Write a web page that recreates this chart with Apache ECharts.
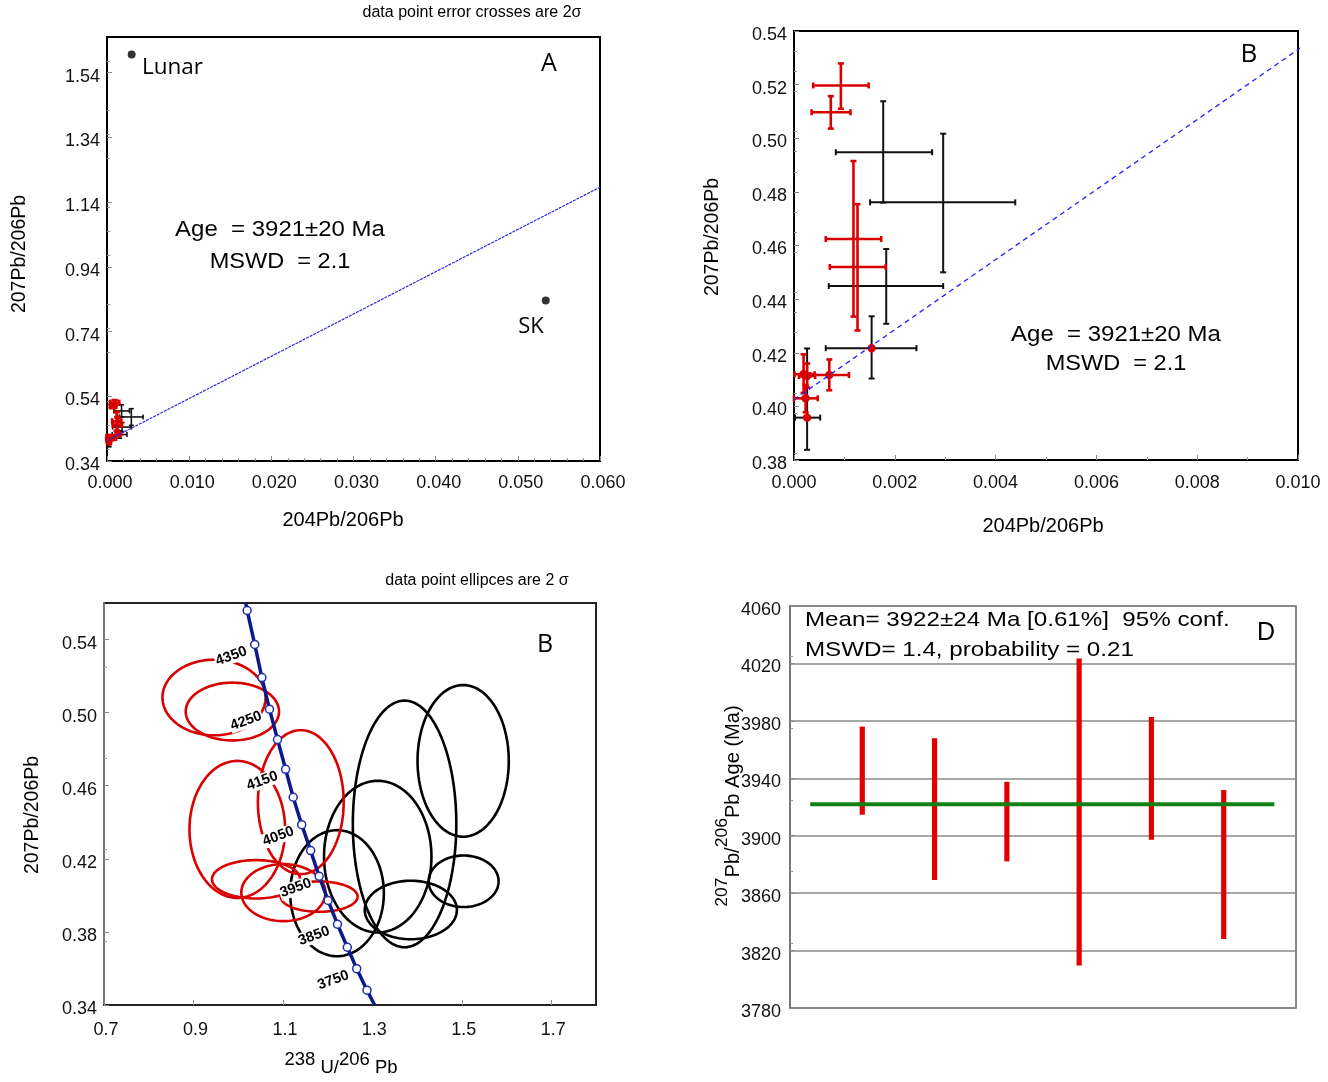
<!DOCTYPE html>
<html><head><meta charset="utf-8">
<script src="https://cdn.jsdelivr.net/npm/echarts@6/dist/echarts.min.js"></script>
<style>html,body{margin:0;padding:0;background:#fff}#c{width:1328px;height:1082px}</style>
</head><body><div id="c"></div>
<script>
// ---------- Panels A & B : 204Pb/206Pb (x) vs 207Pb/206Pb (y), error crosses ----------
const redCrossX   = [0.00093, 0.00073, 0.00118, 0.00126, 0.00070, 0.00019, 0.00026, 0.00023];
const redCrossY   = [0.5197, 0.5097, 0.4624, 0.4520, 0.4117, 0.4120, 0.4113, 0.4030];
const redCrossXLo = [0.00038, 0.00035, 0.00063, 0.00071, 0.00032, 0.00001, 0.00010, 0.00000];
const redCrossXHi = [0.00148, 0.00112, 0.00173, 0.00182, 0.00109, 0.00041, 0.00042, 0.00047];
const redCrossYLo = [0.5110, 0.5036, 0.4335, 0.4283, 0.4060, 0.4050, 0.4070, 0.3978];
const redCrossYHi = [0.5279, 0.5157, 0.4915, 0.4754, 0.4175, 0.4194, 0.4160, 0.4080];
const redCrossDot = [0, 0, 0, 0, 1, 1, 1, 1];

const blackCrossX   = [0.00177, 0.00296, 0.00183, 0.00154, 0.00026];
const blackCrossY   = [0.4948, 0.4761, 0.4449, 0.4217, 0.3958];
const blackCrossXLo = [0.00083, 0.00151, 0.00069, 0.00063, 0.00002];
const blackCrossXHi = [0.00274, 0.00439, 0.00296, 0.00243, 0.00052];
const blackCrossYLo = [0.4760, 0.4500, 0.4308, 0.4104, 0.3838];
const blackCrossYHi = [0.5138, 0.5017, 0.4587, 0.4336, 0.4216];
const blackCrossDot = [0, 0, 0, 1, 1];

const refPointName = ['Lunar', 'SK'];
const refPointX = [0.0030, 0.0534];
const refPointY = [1.596, 0.836];

const isochronX = [0, 0.06];
const isochronY = [0.4025, 1.186];

const ticksA_x = [0, 0.01, 0.02, 0.03, 0.04, 0.05, 0.06];
const ticksA_y = [0.34, 0.54, 0.74, 0.94, 1.14, 1.34, 1.54];
const ticksB_x = [0, 0.002, 0.004, 0.006, 0.008, 0.010];
const ticksB_y = [0.38, 0.40, 0.42, 0.44, 0.46, 0.48, 0.50, 0.52, 0.54];

// ---------- Panel C : Tera-Wasserburg (238U/206Pb vs 207Pb/206Pb) ----------
const concordiaAge = [4400, 4350, 4300, 4250, 4200, 4150, 4100, 4050, 4000, 3950, 3900, 3850, 3800, 3750, 3700];
const concordiaX = [1.020, 1.037, 1.053, 1.070, 1.088, 1.106, 1.123, 1.142, 1.162, 1.181, 1.201, 1.222, 1.244, 1.265, 1.288];
const concordiaY = [0.5559, 0.5373, 0.5192, 0.5019, 0.4853, 0.4690, 0.4537, 0.4387, 0.4245, 0.4104, 0.3972, 0.3842, 0.3716, 0.3599, 0.3481];
const concordiaEndTop = [1.017, 0.56];
const concordiaEndBottom = [1.305, 0.34];
const labelledAges = [4350, 4250, 4150, 4050, 3950, 3850, 3750];

const redEllCX = [0.946, 0.987, 0.998, 1.140, 1.040, 1.101, 1.181];
const redEllCY = [0.5083, 0.5006, 0.4361, 0.4510, 0.4088, 0.4015, 0.3993];
const redEllRX = [0.1153, 0.1043, 0.1069, 0.0959, 0.0985, 0.0940, 0.0860];
const redEllRY = [0.0207, 0.0158, 0.0375, 0.0394, 0.0105, 0.0156, 0.0083];

const blackEllCX = [1.221, 1.312, 1.372, 1.503, 1.504, 1.386];
const blackEllCY = [0.4012, 0.4212, 0.4391, 0.4736, 0.4077, 0.3920];
const blackEllRX = [0.1047, 0.1201, 0.1157, 0.1020, 0.0782, 0.1030];
const blackEllRY = [0.0345, 0.0415, 0.0675, 0.0415, 0.0141, 0.0160];

const ticksC_x = [0.7, 0.9, 1.1, 1.3, 1.5, 1.7];
const ticksC_y = [0.34, 0.38, 0.42, 0.46, 0.50, 0.54];

// ---------- Panel D : weighted mean of 207Pb/206Pb ages ----------
const spotIndex = [1, 2, 3, 4, 5, 6];
const ageLow  = [3914.6, 3869.1, 3882.1, 3809.6, 3897.2, 3828.1];
const ageHigh = [3976.0, 3967.9, 3937.5, 4023.5, 3982.7, 3931.9];
const meanAge = 3922;
const meanLineSpan = [0.28, 6.7];
const ticksD_y = [3780, 3820, 3860, 3900, 3940, 3980, 4020, 4060];

// ---------------------------------------------------------------
const FONT = '"Liberation Sans", Arial, sans-serif';
const SANS2 = '"Open Sans", "Noto Sans", sans-serif';
const RED = '#d80000';

function crossRenderer(color, lw, cap, dotR) {
  return function (params, api) {
    const x = api.value(0), y = api.value(1);
    const c = api.coord([x, y]);
    const l = api.coord([api.value(2), y]), r = api.coord([api.value(3), y]);
    const b = api.coord([x, api.value(4)]), t = api.coord([x, api.value(5)]);
    const st = {stroke: color, lineWidth: lw};
    const seg = (x1, y1, x2, y2) => ({type: 'line', shape: {x1, y1, x2, y2}, style: st});
    const ch = [
      seg(l[0], l[1], r[0], r[1]), seg(b[0], b[1], t[0], t[1]),
      seg(l[0], l[1] - cap, l[0], l[1] + cap), seg(r[0], r[1] - cap, r[0], r[1] + cap),
      seg(b[0] - cap, b[1], b[0] + cap, b[1]), seg(t[0] - cap, t[1], t[0] + cap, t[1])
    ];
    if (api.value(6)) ch.push({type: 'circle', shape: {cx: c[0], cy: c[1], r: dotR}, style: {fill: RED}});
    return {type: 'group', children: ch};
  };
}
function ellipseRenderer(color) {
  return function (params, api) {
    const cx = api.value(0), cy = api.value(1), rx = api.value(2), ry = api.value(3);
    const pts = [];
    for (let k = 0; k < 120; k++) {
      const t = k / 120 * 2 * Math.PI;
      pts.push(api.coord([cx + rx * Math.cos(t), cy + ry * Math.sin(t)]));
    }
    return {type: 'polygon', shape: {points: pts}, style: {fill: 'none', stroke: color, lineWidth: 2.6}};
  };
}
function barRenderer(params, api) {
  const lo = api.coord([api.value(0), api.value(1)]);
  const hi = api.coord([api.value(0), api.value(2)]);
  return {type: 'rect', shape: {x: lo[0] - 2.6, y: hi[1], width: 5.2, height: lo[1] - hi[1]}, style: {fill: '#e00000'}};
}

const redRows = redCrossX.map((x, i) => [x, redCrossY[i], redCrossXLo[i], redCrossXHi[i], redCrossYLo[i], redCrossYHi[i], redCrossDot[i]]);
const blackRows = blackCrossX.map((x, i) => [x, blackCrossY[i], blackCrossXLo[i], blackCrossXHi[i], blackCrossYLo[i], blackCrossYHi[i], blackCrossDot[i]]);
const redEllRows = redEllCX.map((x, i) => [x, redEllCY[i], redEllRX[i], redEllRY[i]]);
const blackEllRows = blackEllCX.map((x, i) => [x, blackEllCY[i], blackEllRX[i], blackEllRY[i]]);

function axis(o) {
  const lab = {
    customValues: o.ticks, fontFamily: FONT, fontSize: 18, color: '#111', margin: o.margin || 8,
    formatter: v => o.dec === 0 ? String(Math.round(v)) : v.toFixed(o.dec)
  };
  if (o.isY) { lab.verticalAlign = 'top'; lab.lineHeight = 8; }
  if (o.pad) lab.padding = o.pad;
  const base = {
    type: 'value',
    axisLine: {show: true, onZero: false, lineStyle: {color: o.lineColor || '#000', width: 2}},
    axisTick: {show: true, inside: true, length: 5, customValues: o.ticks, lineStyle: {color: '#888', width: 1}},
    minorTick: {show: !!o.minor, splitNumber: o.minor || 2, length: 3, lineStyle: {color: '#999'}},
    splitLine: {show: false},
    axisLabel: lab
  };
  const r = Object.assign(base, o.extra || {});
  r.gridIndex = o.grid; r.min = o.min; r.max = o.max;
  return r;
}

const option = {
  animation: false,
  backgroundColor: '#fff',
  grid: [
    {left: 107, top: 37, width: 493, height: 424, show: true, borderColor: '#000', borderWidth: 2},
    {left: 794, top: 31, width: 504, height: 429, show: true, borderColor: '#000', borderWidth: 2},
    {left: 104, top: 603, width: 492, height: 402, show: true, borderColor: '#222', borderWidth: 2},
    {left: 790, top: 606, width: 506, height: 402, show: true, borderColor: '#666', borderWidth: 1.5}
  ],
  xAxis: [
    axis({grid: 0, min: 0, max: 0.06, ticks: ticksA_x, dec: 3, minor: 5, margin: 13, pad: [0, 0, 0, 6]}),
    axis({grid: 1, min: 0, max: 0.01, ticks: ticksB_x, dec: 3, minor: 2, margin: 14}),
    axis({grid: 2, min: 0.7, max: 1.8, ticks: ticksC_x, dec: 1, minor: 2, margin: 16, lineColor: '#222', pad: [0, 0, 0, 4]}),
    {gridIndex: 3, type: 'value', min: 0, max: 7, axisLine: {show: false}, axisTick: {show: false}, axisLabel: {show: false}, splitLine: {show: false}}
  ],
  yAxis: [
    axis({grid: 0, min: 0.34, max: 1.65, ticks: ticksA_y, dec: 2, minor: 4, margin: 7, isY: true}),
    axis({grid: 1, min: 0.38, max: 0.54, ticks: ticksB_y, dec: 2, minor: 4, margin: 7, isY: true}),
    axis({grid: 2, min: 0.34, max: 0.56, ticks: ticksC_y, dec: 2, minor: 2, margin: 7, lineColor: '#777', isY: true}),
    axis({grid: 3, min: 3780, max: 4060, ticks: ticksD_y, dec: 0, minor: 2, margin: 9, lineColor: '#777', isY: true,
      extra: {splitLine: {show: true, lineStyle: {color: '#8a8a8a', width: 1.6}}}})
  ],
  series: [
    // Panel A
    {type: 'line', xAxisIndex: 0, yAxisIndex: 0, data: isochronX.map((x, i) => [x, isochronY[i]]), symbol: 'none',
      lineStyle: {color: '#2a2ae6', width: 1.2, type: [3, 1]}, silent: true},
    {type: 'custom', xAxisIndex: 0, yAxisIndex: 0, renderItem: crossRenderer('#111', 1.6, 2.5, 3), data: blackRows, silent: true},
    {type: 'custom', xAxisIndex: 0, yAxisIndex: 0, renderItem: crossRenderer(RED, 2.8, 3.2, 3.8), data: redRows, silent: true},
    {type: 'scatter', xAxisIndex: 0, yAxisIndex: 0, symbolSize: 8, itemStyle: {color: '#000'},
      data: refPointX.map((x, i) => [x, refPointY[i], refPointName[i]]), silent: true},
    // Panel B
    {type: 'line', xAxisIndex: 1, yAxisIndex: 1, data: isochronX.map((x, i) => [x, isochronY[i]]), symbol: 'none',
      lineStyle: {color: '#1f1fff', width: 1.3, type: [5, 4]}, silent: true, clip: true},
    {type: 'custom', xAxisIndex: 1, yAxisIndex: 1, renderItem: crossRenderer('#111', 2, 3, 4.2), data: blackRows, silent: true},
    {type: 'custom', xAxisIndex: 1, yAxisIndex: 1, renderItem: crossRenderer(RED, 2.6, 3, 4.2), data: redRows, silent: true},
    // Panel C
    {type: 'custom', xAxisIndex: 2, yAxisIndex: 2, renderItem: ellipseRenderer('#000'), data: blackEllRows, silent: true},
    {type: 'custom', xAxisIndex: 2, yAxisIndex: 2, renderItem: ellipseRenderer(RED), data: redEllRows, silent: true},
    {type: 'line', xAxisIndex: 2, yAxisIndex: 2, z: 10, silent: true,
      symbol: 'circle', symbolSize: 8, showAllSymbol: true,
      itemStyle: {color: '#fff', borderColor: '#1c2fa8', borderWidth: 1.5},
      lineStyle: {color: '#0b1a8a', width: 3.5},
      label: {position: 'inside', offset: [-26, 3], rotate: 20, fontWeight: 'bold', fontSize: 14.5, fontFamily: FONT,
        color: '#000', backgroundColor: '#fff', padding: [0, 1]},
      data: [{value: concordiaEndTop, symbol: 'none'}]
        .concat(concordiaX.map((x, i) => ({value: [x, concordiaY[i]],
          label: {show: labelledAges.indexOf(concordiaAge[i]) >= 0, formatter: String(concordiaAge[i])}})))
        .concat([{value: concordiaEndBottom, symbol: 'none'}])},
    // Panel D
    {type: 'line', xAxisIndex: 3, yAxisIndex: 3, symbol: 'none', silent: true,
      data: meanLineSpan.map(x => [x, meanAge]), lineStyle: {color: '#128012', width: 4}},
    {type: 'custom', xAxisIndex: 3, yAxisIndex: 3, renderItem: barRenderer, silent: true,
      data: spotIndex.map((s, i) => [s, ageLow[i], ageHigh[i]])}
  ],
  graphic: []
};

function txt(x, y, text, size, extra) {
  extra = extra || {};
  const st = Object.assign({text: text, fontSize: size, fontFamily: FONT, fill: '#000',
    textAlign: 'center', align: 'center', textVerticalAlign: 'middle', verticalAlign: 'middle'}, extra.style || {});
  const el = {type: 'text', x: x, y: y, z: 100, style: st, silent: true};
  if (extra.rotation) el.rotation = extra.rotation;
  if (extra.sx) el.scaleX = extra.sx;
  return el;
}
const R90 = Math.PI / 2;
const LEFT = {textAlign: 'left', align: 'left'};
option.graphic = [
  // A
  txt(472, 13, 'data point error crosses are 2σ', 16),
  txt(549, 64, 'A', 25, {style: {fontFamily: SANS2}}),
  txt(142, 68, 'Lunar', 22.5, {style: Object.assign({fontFamily: SANS2}, LEFT)}),
  txt(531, 327, 'SK', 22, {style: {fontFamily: SANS2}}),
  txt(280, 230, 'Age  = 3921±20 Ma', 22, {sx: 1.09}),
  txt(280, 262, 'MSWD  = 2.1', 22, {sx: 1.07}),
  txt(20, 254, '207Pb/206Pb', 19.5, {rotation: R90}),
  txt(343, 520, '204Pb/206Pb', 20),
  // B
  txt(1249, 55, 'B', 26, {style: {fontFamily: SANS2}}),
  txt(1116, 335, 'Age  = 3921±20 Ma', 22, {sx: 1.09}),
  txt(1116, 364, 'MSWD  = 2.1', 22, {sx: 1.07}),
  txt(713, 237, '207Pb/206Pb', 19.5, {rotation: R90}),
  txt(1043, 526, '204Pb/206Pb', 20),
  // C
  txt(477, 581, 'data point ellipces are 2 σ', 16),
  txt(545, 645, 'B', 25, {style: {fontFamily: SANS2}}),
  txt(33, 815, '207Pb/206Pb', 19.5, {rotation: R90}),
  txt(341, 1064, '{a|238}{b| U/}{a|206}{b| Pb}', 18.5, {style: {rich: {
    a: {fontSize: 18.5, fontFamily: FONT, verticalAlign: 'top', lineHeight: 27},
    b: {fontSize: 18.5, fontFamily: FONT, verticalAlign: 'bottom', lineHeight: 27}}}}),
  // D
  txt(805, 620, 'Mean= 3922±24 Ma [0.61%]  95% conf.', 21, {sx: 1.15, style: LEFT}),
  txt(805, 650, 'MSWD= 1.4, probability = 0.21', 21, {sx: 1.15, style: LEFT}),
  txt(1266, 633, 'D', 25),
  txt(729, 806, '{s|207}{p|Pb/}{s|206}{p|Pb}{p| Age (Ma)}', 19, {rotation: R90, sx: 1.03, style: {rich: {
    s: {fontSize: 17, fontFamily: FONT, verticalAlign: 'top', lineHeight: 30},
    p: {fontSize: 19.5, fontFamily: FONT, verticalAlign: 'bottom', lineHeight: 30}}}})
];

const chart = echarts.init(document.getElementById('c'));
chart.setOption(option);
</script>
</body></html>
